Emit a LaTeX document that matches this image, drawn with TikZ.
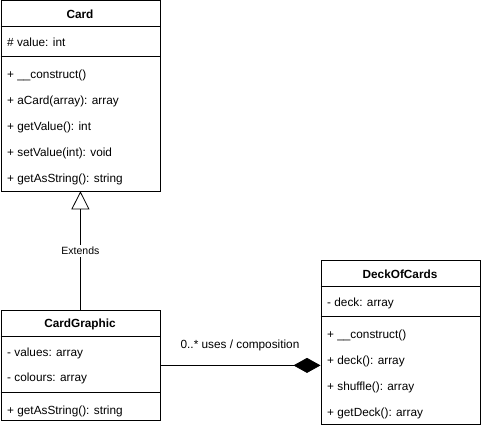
\documentclass[tikz,border=0pt]{standalone}
\usepackage{fontspec}
\setmainfont{Liberation Sans}
\usetikzlibrary{arrows.meta}
\begin{document}
\begin{tikzpicture}[x=1pt,y=-1pt,
  font=\fontsize{11.8}{14}\selectfont,
  box/.style={draw, line width=0.8pt, inner sep=0, anchor=north west, minimum width=159pt},
  item/.style={anchor=west, inner sep=0},
  ttl/.style={font=\fontsize{11.8}{14}\selectfont\bfseries, inner sep=0},
  sep/.style={line width=0.8pt},
  conn/.style={line width=0.8pt}]
\useasboundingbox (0,0) rectangle (481,428);

% Card
\node[box, minimum height=190pt] (card) at (0.5,0.5) {};
\node[ttl] (cardt) at (80,14) {Card};
\draw[sep] (0.5,26) -- (159.5,26);
\node[item] (c1) at (7,42) {\# value: int};
\draw[sep] (0.5,56) -- (159.5,56);
\node[item] (c2) at (7,75) {+ \_\_construct()};
\node[item] (c3) at (7,101) {+ aCard(array): array};
\node[item] (c4) at (7,127) {+ getValue(): int};
\node[item] (c5) at (7,153) {+ setValue(int): void};
\node[item] (c6) at (7,179) {+ getAsString(): string};

% CardGraphic
\node[box, minimum height=110pt] (cg) at (0.5,310) {};
\node[ttl] (cgt) at (80,324) {CardGraphic};
\draw[sep] (0.5,336) -- (159.5,336);
\node[item] (g1) at (7,353) {- values: array};
\node[item] (g2) at (7,378) {- colours: array};
\draw[sep] (0.5,392) -- (159.5,392);
\node[item] (g3) at (7,411) {+ getAsString(): string};

% DeckOfCards
\node[box, minimum height=164pt] (deck) at (320.5,260) {};
\node[ttl] (dt) at (400,274) {DeckOfCards};
\draw[sep] (320.5,286) -- (479.5,286);
\node[item] (d1) at (327,303) {- deck: array};
\draw[sep] (320.5,316) -- (479.5,316);
\node[item] (d2) at (327,335) {+ \_\_construct()};
\node[item] (d3) at (327,361) {+ deck(): array};
\node[item] (d4) at (327,387) {+ shuffle(): array};
\node[item] (d5) at (327,413) {+ getDeck(): array};

% Extends
\draw[conn, -{Triangle[open, length=18pt, width=18pt, line width=0.8pt]}] (cg.north) -- node[fill=white, inner sep=2pt] (ext) {\fontsize{10.5}{12}\selectfont Extends} (card.south);

% Composition
\draw[conn, -{Diamond[length=27pt, width=15pt]}] (cg.east) -- (cg.east -| deck.west);
\node[inner sep=0] (lbl) at (240,345) {0..* uses / composition};
\end{tikzpicture}
\end{document}
